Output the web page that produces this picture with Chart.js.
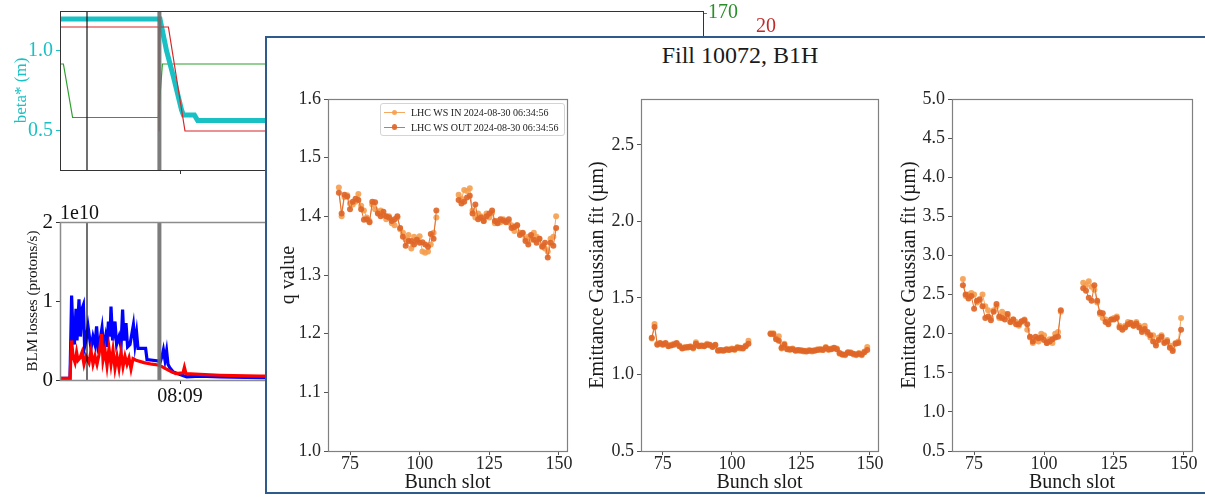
<!DOCTYPE html>
<html>
<head>
<meta charset="utf-8">
<script src="https://cdn.jsdelivr.net/npm/chart.js@4.4.1/dist/chart.umd.min.js"></script>
<style>
  body { margin: 0; background: #fff; width: 1205px; height: 497px; overflow: hidden; position: relative;
         font-family: "Liberation Serif", "DejaVu Serif", serif; }
  canvas { position: absolute; }
  #popup { position: absolute; left: 265px; top: 36px; width: 946px; height: 454px;
           border: 2px solid #2d5b8c; background: #fff; z-index: 1; }
  #popup .title { position: absolute; left: 0; right: 0; top: 4px; text-align: center;
                  font-size: 24px; line-height: 26px; color: #1a1a1a; }
  .plot { z-index: 2; }
  #legend { position: absolute; left: 380px; top: 103px; width: 183px; height: 31px; z-index: 3;
            border: 1px solid #d4d4d4; border-radius: 3px; background: rgba(255,255,255,0.85);
            font-size: 10px; color: #222; }
  #legend .item { position: absolute; left: 30px; white-space: nowrap; line-height: 12px; }
  #legend .swatch { position: absolute; left: -27px; top: 5px; width: 21px; height: 1.3px; }
  #legend .swatch::after { content: ""; position: absolute; left: 7.5px; top: -2.2px; width: 5.5px; height: 5.5px;
                           border-radius: 50%; background: inherit; }
</style>
</head>
<body>
<canvas id="beta" width="800" height="180" style="left:0;top:0"></canvas>
<canvas id="blm" width="800" height="210" style="left:0;top:200px"></canvas>
<div id="popup"><div class="title">Fill 10072, B1H</div></div>
<canvas id="qplot" class="plot" width="305" height="410" style="left:270px;top:85px"></canvas>
<canvas id="emit1" class="plot" width="300" height="410" style="left:585px;top:85px"></canvas>
<canvas id="emit2" class="plot" width="310" height="410" style="left:895px;top:85px"></canvas>
<div id="legend"></div>
<script>
// ---- background: beta* and BLM losses vs time (seconds after 08:08:00) ----
const timeTicks = [60];
const markerTimes = [13.5, 49.7];

const cyanT = [0, 50, 53.3, 56.7, 60.8, 61.7, 67.2, 68.8, 321.5];
const cyanBeta = [1.2, 1.2, 1.0, 0.84, 0.63, 0.6, 0.6, 0.565, 0.565];
const redT = [0, 49.4, 49.5, 49.6, 54.2, 62.5, 321.5];
const redVal = [20, 20, 10, 20, 20, 10, 10];
const greenT = [0, 1.7, 6.3, 49.2, 51.2, 321.5];
const greenVal = [160, 160, 149.5, 149.5, 160, 160];

const blueT = [0, 5, 5.8, 6.5, 7.2, 8, 8.5, 9.5, 10.2, 11, 11.7, 12.3, 13, 14, 14.7, 15.5, 16.5, 17.5, 18.3, 19,
  20, 21, 21.8, 22.8, 23.5, 24.2, 25, 25.5, 26.3, 27.5, 28.3, 29.5, 30.5, 31.3, 32, 33, 33.8, 35, 36.7, 37.5,
  38.3, 39, 42.8, 43.5, 49.2, 50, 51, 51.7, 52.5, 53.3, 54, 55, 56.7, 60, 63.3, 70, 80, 100, 321.5];
const blueLoss = [0.02, 0.02, 1.07, 0.6, 0.45, 0.9, 0.5, 1.02, 0.55, 0.9, 0.95, 0.42, 0.5, 0.68, 0.55, 0.4, 0.55, 0.45, 0.68, 0.42,
  0.5, 0.66, 0.4, 0.55, 0.42, 0.74, 0.55, 0.93, 0.5, 0.74, 0.45, 0.55, 0.42, 0.89, 0.5, 0.72, 0.42, 0.45, 0.7, 0.45,
  0.6, 0.4, 0.4, 0.26, 0.24, 0.22, 0.3, 0.38, 0.25, 0.37, 0.2, 0.15, 0.1, 0.07, 0.04, 0.05, 0.04, 0.03, 0.03];
const redLossT = [0, 5, 5.8, 6.5, 7.5, 8.3, 9, 10, 11, 12, 13, 14.5, 15.5, 16.5, 17.5, 18.5, 19.5, 20.8, 21.5, 22.5,
  23.5, 24.5, 25.5, 26.5, 27.5, 28.5, 29.5, 30.5, 31.5, 32.5, 33.5, 34.5, 35.5, 36.5, 38, 42, 46, 49, 51, 53,
  56, 58, 61.5, 62.2, 63, 70, 80, 100, 321.5];
const redLoss = [0.02, 0.02, 0.5, 0.3, 0.22, 0.35, 0.25, 0.28, 0.35, 0.2, 0.3, 0.22, 0.37, 0.2, 0.3, 0.2, 0.32, 0.58, 0.25, 0.38,
  0.18, 0.4, 0.2, 0.38, 0.15, 0.3, 0.15, 0.35, 0.17, 0.3, 0.2, 0.28, 0.14, 0.27, 0.25, 0.22, 0.2, 0.19, 0.17, 0.14,
  0.1, 0.08, 0.09, 0.16, 0.08, 0.07, 0.06, 0.05, 0.05];

// ---- wire scanner profiles per bunch slot ----
const seriesLabels = ["LHC WS IN 2024-08-30 06:34:56", "LHC WS OUT 2024-08-30 06:34:56"];
const slots = [71, 72, 73, 74, 75, 76, 77, 78, 79, 80, 81, 82, 83, 84, 85, 86, 87, 88, 89, 90, 91, 92, 93, 94, 95, 96,
  97, 98, 99, 100, 101, 102, 103, 104, 105, 106,
  114, 115, 116, 117, 118, 119, 120, 121, 122, 123, 124, 125, 126, 127, 128, 129, 130, 131, 132, 133, 134, 135, 136,
  137, 138, 139, 140, 141, 142, 143, 144, 145, 146, 147, 148, 149];
const slotTicks = [75, 100, 125, 150];

const qIn = [1.449, 1.400, 1.433, 1.436, 1.422, 1.420, 1.425, 1.438, 1.418, 1.410, 1.398, 1.392, 1.420, 1.412, 1.408, 1.410,
  1.402, 1.395, 1.400, 1.388, 1.385, 1.398, 1.378, 1.372, 1.360, 1.368, 1.345, 1.365, 1.358, 1.366, 1.340, 1.338, 1.340,
  1.352, 1.372, 1.398,
  1.437, 1.430, 1.445, 1.443, 1.448, 1.410, 1.398, 1.405, 1.400, 1.392, 1.405, 1.398, 1.406, 1.388, 1.392, 1.390, 1.395,
  1.392, 1.390, 1.385, 1.375, 1.385, 1.372, 1.370, 1.362, 1.365, 1.360, 1.372, 1.365, 1.362, 1.350, 1.345, 1.340, 1.362,
  1.365, 1.400];
const qOut = [1.440, 1.405, 1.437, 1.434, 1.412, 1.425, 1.430, 1.428, 1.412, 1.394, 1.395, 1.390, 1.425, 1.424, 1.405, 1.400,
  1.408, 1.400, 1.398, 1.392, 1.395, 1.400, 1.380, 1.365, 1.350, 1.358, 1.358, 1.352, 1.360, 1.355, 1.356, 1.352, 1.348,
  1.370, 1.362, 1.410,
  1.428, 1.422, 1.425, 1.432, 1.435, 1.405, 1.420, 1.395, 1.398, 1.392, 1.400, 1.405, 1.410, 1.392, 1.388, 1.395, 1.393,
  1.390, 1.395, 1.380, 1.382, 1.385, 1.368, 1.372, 1.358, 1.352, 1.368, 1.360, 1.355, 1.362, 1.348, 1.355, 1.330, 1.355,
  1.350, 1.380];
const emitIn = [1.235, 1.33, 1.20, 1.20, 1.20, 1.20, 1.19, 1.195, 1.20, 1.20, 1.19, 1.175, 1.18, 1.175, 1.185, 1.17, 1.21,
  1.19, 1.185, 1.19, 1.20, 1.19, 1.185, 1.19, 1.16, 1.155, 1.16, 1.16, 1.165, 1.17, 1.16, 1.18, 1.17, 1.175, 1.19, 1.22,
  1.27, 1.27, 1.24, 1.25, 1.17, 1.20, 1.17, 1.16, 1.17, 1.16, 1.155, 1.16, 1.15, 1.155, 1.16, 1.15, 1.16, 1.165, 1.16,
  1.165, 1.18, 1.16, 1.17, 1.17, 1.17, 1.135, 1.13, 1.125, 1.14, 1.145, 1.13, 1.125, 1.14, 1.125, 1.15, 1.18];
const emitOut = [1.24, 1.31, 1.195, 1.205, 1.195, 1.205, 1.185, 1.19, 1.195, 1.205, 1.185, 1.17, 1.175, 1.18, 1.18, 1.175,
  1.20, 1.185, 1.19, 1.185, 1.195, 1.195, 1.18, 1.195, 1.155, 1.16, 1.155, 1.165, 1.16, 1.165, 1.165, 1.175, 1.175, 1.17,
  1.185, 1.20,
  1.265, 1.265, 1.23, 1.22, 1.175, 1.195, 1.165, 1.165, 1.165, 1.155, 1.16, 1.155, 1.155, 1.15, 1.155, 1.155, 1.155, 1.16,
  1.165, 1.16, 1.175, 1.165, 1.165, 1.175, 1.165, 1.14, 1.13, 1.13, 1.145, 1.14, 1.135, 1.13, 1.135, 1.13, 1.145, 1.16];
const emit2In = [2.70, 2.48, 2.50, 2.52, 2.50, 2.40, 2.42, 2.50, 2.35, 2.30, 2.20, 2.30, 2.35, 2.20, 2.28, 2.25, 2.22, 2.15,
  2.18, 2.15, 2.10, 2.15, 2.18, 2.05, 1.95, 1.88, 1.92, 1.90, 2.00, 1.98, 1.88, 1.93, 1.88, 2.00, 2.02, 2.28,
  2.65, 2.62, 2.67, 2.60, 2.56, 2.40, 2.25, 2.20, 2.18, 2.15, 2.18, 2.20, 2.22, 2.10, 2.08, 2.10, 2.15, 2.12, 2.10, 2.15,
  2.10, 2.05, 2.10, 2.00, 1.95, 1.98, 1.88, 1.95, 1.98, 1.90, 1.92, 1.85, 1.80, 1.88, 1.90, 2.20];
const emit2Out = [2.62, 2.50, 2.45, 2.48, 2.32, 2.42, 2.44, 2.35, 2.20, 2.22, 2.17, 2.28, 2.38, 2.22, 2.20, 2.18, 2.25, 2.15,
  2.18, 2.12, 2.12, 2.16, 2.17, 2.12, 1.96, 1.90, 1.96, 1.94, 1.95, 1.92, 1.88, 1.90, 1.93, 1.95, 1.96, 2.30,
  2.58, 2.55, 2.46, 2.42, 2.62, 2.42, 2.27, 2.26, 2.15, 2.12, 2.18, 2.18, 2.20, 2.08, 2.05, 2.08, 2.12, 2.14, 2.10, 2.13,
  2.08, 2.02, 2.06, 2.02, 1.98, 1.90, 1.85, 1.92, 1.96, 1.88, 1.90, 1.82, 1.78, 1.87, 1.88, 2.05];

const SERIF = "'Liberation Serif', 'DejaVu Serif', serif";
const inColor = "rgba(245, 158, 80, 0.9)";
const outColor = "rgba(222, 102, 40, 0.92)";
Chart.defaults.font.family = SERIF;

// box around the plotting area
const frame = {
  id: "frame",
  afterDatasetsDraw(chart, args, opts) {
    const a = chart.chartArea, ctx = chart.ctx;
    ctx.save();
    ctx.strokeStyle = opts.color;
    ctx.lineWidth = opts.width;
    ctx.strokeRect(Math.round(a.left) + 0.5, Math.round(a.top) + 0.5,
                   Math.round(a.right - a.left), Math.round(a.bottom - a.top));
    ctx.restore();
  }
};

// matplotlib style scale offset text above the y axis
const offsetText = {
  id: "offsetText",
  afterDraw(chart, args, opts) {
    if (!opts.text) return;
    const ctx = chart.ctx, a = chart.chartArea;
    ctx.save();
    ctx.font = "20px " + SERIF;
    ctx.fillStyle = "#111";
    ctx.textBaseline = "alphabetic";
    ctx.fillText(opts.text, a.left, a.top - 3);
    ctx.restore();
  }
};

const fixWidth = w => s => { s.width = w; s.paddingTop = 0; s.paddingBottom = 0; };
const fixHeight = h => s => { s.height = h; s.paddingLeft = 0; s.paddingRight = 0; };
const setTicks = list => s => { s.ticks = list.map(v => ({ value: v })); };
const xy = (xs, ys) => xs.map((x, i) => ({ x, y: ys[i] }));

function clock(sec) {
  const m = 8 * 60 + 8 + sec / 60;
  return String(Math.floor(m / 60)).padStart(2, "0") + ":" + String(Math.round(m % 60)).padStart(2, "0");
}

function vline(t, yMin, yMax, color, width, axis) {
  return { data: [{ x: t, y: yMin }, { x: t, y: yMax }], borderColor: color, borderWidth: width,
           pointRadius: 0, yAxisID: axis, order: 0 };
}

const common = {
  responsive: false,
  animation: false,
  events: [],
  plugins: { legend: { display: false }, tooltip: { enabled: false } }
};

// beta* panel
const BETA_MIN = 0.256, BETA_MAX = 1.25;
new Chart(document.getElementById("beta"), {
  type: "line",
  data: {
    datasets: [
      { data: xy(cyanT, cyanBeta), borderColor: "#19c1c4", borderWidth: 5, pointRadius: 0, yAxisID: "y", order: 2 },
      { data: xy(greenT, greenVal), borderColor: "#2ca02c", borderWidth: 1.2, pointRadius: 0, yAxisID: "y2", order: 3 },
      { data: xy(redT, redVal), borderColor: "#d62728", borderWidth: 1.2, pointRadius: 0, yAxisID: "y3", order: 1 },
      vline(markerTimes[0], BETA_MIN, BETA_MAX, "#111", 1.2, "y"),
      vline(markerTimes[1], BETA_MIN, BETA_MAX, "rgba(110,110,110,0.9)", 4, "y")
    ]
  },
  options: {
    ...common,
    layout: { padding: { top: 11, left: 0, right: 0, bottom: 0 } },
    plugins: { ...common.plugins, frame: { color: "#333", width: 1 } },
    scales: {
      x: {
        type: "linear", min: 0, max: 321.5,
        afterBuildTicks: setTicks(timeTicks), afterFit: fixHeight(10),
        ticks: { display: false },
        grid: { drawOnChartArea: false, tickLength: 4, color: "#333" },
        border: { display: false }
      },
      y: {
        position: "left", min: BETA_MIN, max: BETA_MAX,
        afterBuildTicks: setTicks([0.5, 1.0]), afterFit: fixWidth(60),
        ticks: { color: "#19c1c4", font: { size: 20 }, padding: 3, callback: v => v.toFixed(1) },
        grid: { drawOnChartArea: false, tickLength: 4, color: "#19c1c4" },
        border: { display: false },
        title: { display: true, text: "beta* (m)", color: "#19c1c4", font: { size: 17 }, padding: { top: 11 } }
      },
      y2: {
        position: "right", weight: 0, min: 139.2, max: 170.4,
        afterBuildTicks: setTicks([170]), afterFit: fixWidth(45),
        ticks: { color: "#2a8f2a", font: { size: 20 }, padding: 1 },
        grid: { drawOnChartArea: false, tickLength: 4, color: "#2ca02c" },
        border: { display: false }
      },
      y3: {
        position: "right", weight: 1, min: 6.25, max: 21.54,
        afterBuildTicks: setTicks([20]), afterFit: fixWidth(52),
        ticks: { color: "#c22a2a", font: { size: 20 }, padding: 8 },
        grid: { drawOnChartArea: false, drawTicks: false },
        border: { display: false }
      }
    }
  },
  plugins: [frame]
});

// BLM losses panel
new Chart(document.getElementById("blm"), {
  type: "line",
  data: {
    datasets: [
      { data: xy(blueT, blueLoss), borderColor: "#0000ff", borderWidth: 3.2, pointRadius: 0, order: 2 },
      { data: xy(redLossT, redLoss), borderColor: "#ff0000", borderWidth: 3.2, pointRadius: 0, order: 1 },
      vline(markerTimes[0], 0, 2, "#111", 1.2, "y"),
      vline(markerTimes[1], 0, 2, "rgba(110,110,110,0.9)", 4, "y")
    ]
  },
  options: {
    ...common,
    layout: { padding: { top: 22, left: 0, right: 97, bottom: 0 } },
    plugins: { ...common.plugins, frame: { color: "#8c8c8c", width: 1.5 }, offsetText: { text: "1e10" } },
    scales: {
      x: {
        type: "linear", min: 0, max: 321.5,
        afterBuildTicks: setTicks(timeTicks), afterFit: fixHeight(30),
        ticks: { color: "#111", font: { size: 20 }, padding: 1, maxRotation: 0, callback: v => clock(v) },
        grid: { drawOnChartArea: false, tickLength: 4, color: "#333" },
        border: { display: false }
      },
      y: {
        min: 0, max: 2,
        afterBuildTicks: setTicks([0, 1, 2]), afterFit: fixWidth(60),
        ticks: { color: "#111", font: { size: 21 }, padding: 3 },
        grid: { drawOnChartArea: false, tickLength: 4, color: "#333" },
        border: { display: false },
        title: { display: true, text: "BLM losses (protons/s)", color: "#111", font: { size: 15 }, padding: { top: 24 } }
      }
    }
  },
  plugins: [frame, offsetText]
});

// per-bunch points, with a break in the line between the two trains
function points(vals) {
  const pts = [];
  slots.forEach((s, i) => {
    if (i > 0 && s - slots[i - 1] > 1) pts.push({ x: (s + slots[i - 1]) / 2, y: null });
    pts.push({ x: s, y: vals[i] });
  });
  return pts;
}

function wsChart(id, o) {
  return new Chart(document.getElementById(id), {
    type: "line",
    data: {
      datasets: [
        { label: seriesLabels[0], data: points(o.inVals), borderColor: inColor, backgroundColor: inColor,
          borderWidth: 1, pointRadius: 3, pointBorderWidth: 0, order: 2 },
        { label: seriesLabels[1], data: points(o.outVals), borderColor: outColor, backgroundColor: outColor,
          borderWidth: 1, pointRadius: 3, pointBorderWidth: 0, order: 1 }
      ]
    },
    options: {
      ...common,
      layout: { padding: { top: 14, left: 0, right: o.padRight, bottom: 0 } },
      plugins: { ...common.plugins, frame: { color: "#808080", width: 1.2 } },
      scales: {
        x: {
          type: "linear", min: 67.1, max: 152.9,
          afterBuildTicks: setTicks(slotTicks), afterFit: fixHeight(44),
          ticks: { color: "#262626", font: { size: 18 }, padding: -2, maxRotation: 0 },
          grid: { drawOnChartArea: false, tickLength: 4, color: "#555" },
          border: { display: false },
          title: { display: true, text: "Bunch slot", color: "#1a1a1a", font: { size: 20 }, padding: { top: 0, bottom: 0 } }
        },
        y: {
          min: o.min, max: o.max,
          afterBuildTicks: setTicks(o.ticks), afterFit: fixWidth(o.axisWidth),
          ticks: { color: "#262626", font: { size: 18 }, padding: 3, callback: v => v.toFixed(1) },
          grid: { drawOnChartArea: false, tickLength: 4, color: "#555" },
          border: { display: false },
          title: { display: true, text: o.title, color: "#1a1a1a", font: { size: 20 }, padding: { top: o.titlePad } }
        }
      }
    },
    plugins: [frame]
  });
}

wsChart("qplot", { inVals: qIn, outVals: qOut, min: 1.0, max: 1.6, ticks: [1.0, 1.1, 1.2, 1.3, 1.4, 1.5, 1.6],
  title: "q value", axisWidth: 58, titlePad: 7, padRight: 8 });
wsChart("emit1", { inVals: emitIn, outVals: emitOut, min: 0.5, max: 2.8, ticks: [0.5, 1.0, 1.5, 2.0, 2.5],
  title: "Emittance Gaussian fit (µm)", axisWidth: 56, titlePad: 1, padRight: 7 });
wsChart("emit2", { inVals: emit2In, outVals: emit2Out, min: 0.5, max: 5.0,
  ticks: [0.5, 1.0, 1.5, 2.0, 2.5, 3.0, 3.5, 4.0, 4.5, 5.0],
  title: "Emittance Gaussian fit (µm)", axisWidth: 57, titlePad: 3, padRight: 13 });

// legend of the q value panel
const legend = document.getElementById("legend");
[inColor, outColor].forEach((c, i) => {
  const item = document.createElement("div");
  item.className = "item";
  item.style.top = (3 + i * 14.5) + "px";
  const sw = document.createElement("span");
  sw.className = "swatch";
  sw.style.background = c;
  item.appendChild(sw);
  item.appendChild(document.createTextNode(seriesLabels[i]));
  legend.appendChild(item);
});
</script>
</body>
</html>
